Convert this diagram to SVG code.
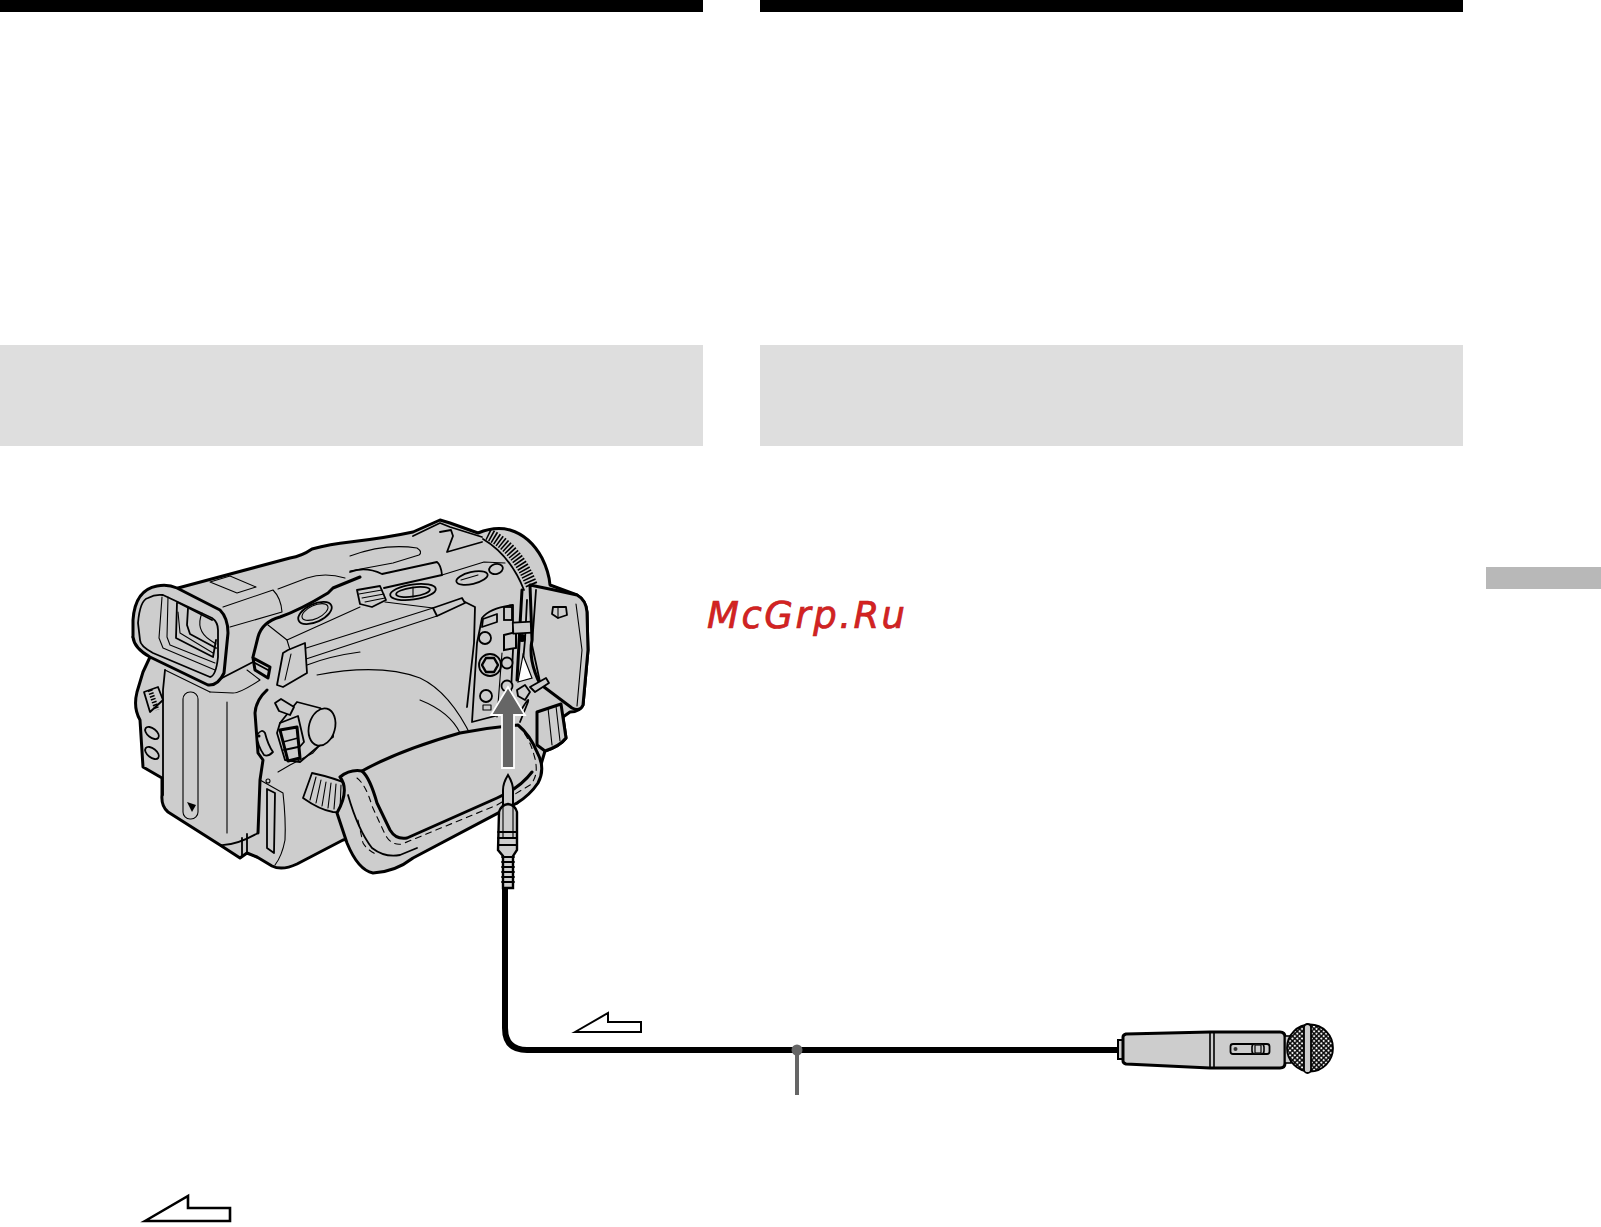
<svg xmlns="http://www.w3.org/2000/svg" width="1601" height="1227" viewBox="0 0 1601 1227">
<style>
.g{fill:#cdcdcd;stroke:#000;stroke-linejoin:round;stroke-linecap:round}
.t{fill:none;stroke:#000;stroke-width:1.1;stroke-linejoin:round;stroke-linecap:round}
.m{fill:none;stroke:#000;stroke-width:1.8;stroke-linejoin:round;stroke-linecap:round}
.k{fill:none;stroke:#000;stroke-width:3;stroke-linejoin:round;stroke-linecap:round}
.gt{fill:#cdcdcd;stroke:#000;stroke-width:1.1;stroke-linejoin:round}
.gm{fill:#cdcdcd;stroke:#000;stroke-width:1.8;stroke-linejoin:round}
.gk{fill:#cdcdcd;stroke:#000;stroke-width:3;stroke-linejoin:round}
.w{fill:#fff;stroke:#000;stroke-linejoin:miter}
.b{fill:#000}
</style>
<defs>
<pattern id="mesh" width="3.4" height="3.4" patternUnits="userSpaceOnUse" patternTransform="rotate(45 1308 1048)">
<rect width="3.4" height="3.4" fill="#000"/><rect x="0.7" y="0.7" width="2" height="2" fill="#f0f0f0"/>
</pattern>
</defs>
<rect width="1601" height="1227" fill="#fff"/>
<g id="page-furniture">
<rect x="0" y="0" width="703" height="12" fill="#000"/>
<rect x="760" y="0" width="703" height="12" fill="#000"/>
<rect x="0" y="345" width="703" height="101" fill="#dedede"/>
<rect x="760" y="345" width="703" height="101" fill="#dedede"/>
<rect x="1486" y="567" width="115" height="22" fill="#b8b8b8"/>
</g>
<g id="camcorder">
<!-- silhouette -->
<path class="gk" stroke-width="3.5" d="M178 588L290 558Q302 556 312 549Q330 544 350 542Q385 538 413 532L440 520L450 523L478 533Q495 526 510 530Q530 536 542 558Q549 572 550 585L577 595Q586 600 587 612L588 650L583 705Q580 712 570 712L563 717L566 738Q560 746 545 751L540 768Q530 790 517 803L343 840L297 864Q282 871 272 866L257 857L247 853L240 858L220 845L168 812Q161 806 162 795L162 778L143 767L140 720Q133 708 137 692L143 672L150 657L133 637Z"/>
<!-- lens ring -->
<path d="M488 534Q517 548 532 586" fill="none" stroke="#000" stroke-width="12" stroke-dasharray="1.6 1.6"/>
<path class="m" d="M483 539Q510 555 524 590"/>
<!-- top surface -->
<path class="t" d="M350 556Q385 543 417 548Q423 552 419 555L393 563L350 571"/>
<path class="m" d="M413 536L440 523L450 527L482 537"/>
<path class="m" d="M440 532L451 530L453 536L447 552L482 542"/>
<path class="m" d="M350 572Q365 566 382 574L437 562Q441 565 442 575L384 588"/>
<path class="gm" d="M357 590L380 586L386 600L372 607L360 604Z"/>
<path class="t" d="M359 594L382 590M362 598L384 594M365 602L385 598"/>
<path class="t" d="M442 575L484 562L505 563"/>
<ellipse class="gm" cx="413" cy="592" rx="23" ry="7.500" transform="rotate(-8 413 592)"/>
<ellipse class="gm" cx="413" cy="592" rx="17" ry="4.500" transform="rotate(-8 413 592)"/>
<path class="t" d="M413 587L413 597"/>
<ellipse class="gm" cx="472" cy="578" rx="16" ry="6" transform="rotate(-13 472 578)"/>
<path class="t" d="M461 580L478 575"/>
<ellipse class="gm" cx="496" cy="569" rx="7" ry="5" transform="rotate(-15 496 569)"/>
<!-- side panel -->
<path class="t" d="M385 602L433 608"/>
<path class="gm" d="M433 608L462 598L465 603L437 616Z"/>
<path class="t" d="M300 650L433 608M303 660L437 616"/>
<path class="m" d="M465 602L475 607L474 643L467 707"/>
<path class="t" d="M317 675Q380 663 420 678Q450 692 472 738"/>
<path class="t" d="M420 700Q450 712 460 733"/>
<!-- jack plate -->
<path class="gm" d="M482 618Q490 608 513 605L513 650L510 712L472 722L477 643Z"/>
<path class="gm" d="M483 619L497 614L497 622L482 627Z"/>
<path class="t" d="M502 653L497 717"/>
<circle class="gm" cx="485" cy="638" r="6"/>
<circle class="gm" cx="490" cy="665" r="11"/>
<path d="M486 658L494 658L498 665L494 672L486 672L482 665Z" fill="#cdcdcd" stroke="#000" stroke-width="2.400"/>
<circle class="gm" cx="507" cy="663" r="5.500"/>
<circle class="gm" cx="507" cy="686" r="5.500"/>
<circle class="gm" cx="486" cy="696" r="6"/>
<rect class="gt" x="483" y="705" width="8" height="5"/>
<rect x="504" y="607" width="8" height="13" fill="#cdcdcd" stroke="#000" stroke-width="1.800"/>
<path d="M504 635L516 632L516 648L504 650Z" fill="#cdcdcd" stroke="#000" stroke-width="2"/>
<!-- cables and hinge -->
<path class="k" d="M522 590L520 625L517 680"/>
<path class="m" d="M527 600L525 640L522 672"/>
<path d="M523 655L518 682L532 678Z" fill="#fff" stroke="#000" stroke-width="1.200"/>
<rect class="gm" x="513" y="622" width="24" height="11" transform="rotate(-3 525 627)"/>
<circle class="b" cx="522" cy="638" r="4"/>
<!-- LCD -->
<path class="gk" d="M530 585Q555 590 577 595Q586 600 587 612L588 650L583 705Q580 712 572 708L540 684Q528 660 532 640Z"/>
<path class="t" d="M576 604L582 650L577 706"/>
<path class="m" d="M536 590L532 645L540 682"/>
<path class="gm" d="M553 607L566 607L567 615L558 618L552 614Z"/>
<path class="t" d="M558 607L558 618"/>
<path class="gm" d="M530 687L546 678L549 683L535 692Z"/>
<path class="gm" d="M517 690L525 685L530 692L525 700L518 696Z"/>
<path class="gk" d="M537 712L561 704L566 738Q560 746 545 751L537 745Z"/>
<path class="t" d="M548 708L552 745M556 706L560 741"/>
<path class="m" d="M520 712Q530 695 528 702L520 722"/>
<!-- hood -->
<path class="k" d="M360 577L333 588L328 593Q300 610 280 617Q262 622 258 637L253 657"/>
<ellipse class="gm" cx="315" cy="613" rx="18" ry="9" transform="rotate(-25 315 613)"/>
<ellipse class="gt" cx="315" cy="612" rx="14" ry="6.500" transform="rotate(-25 315 612)"/>
<path class="t" d="M268 625L287 640L360 607"/>
<path class="t" d="M287 640L290 650"/>
<path class="gm" d="M288 650L305 643L307 673L283 687L277 685L283 653Z"/>
<path class="t" d="M291 654L285 680"/>
<path class="t" d="M307 665Q330 656 360 652"/>
<path class="gk" d="M253 658L270 667L268 678L255 670Z"/>
<path class="m" d="M253 662L268 670"/>
<!-- barrel -->
<path class="t" d="M223 607L273 590Q281 598 282 612L230 627M278 589L307 578Q325 572 345 578"/>
<path class="gt" d="M210 582L230 576L256 587L237 593Z"/>
<path class="m" d="M222 678L253 662"/>
<path class="t" d="M247 670L260 680Q240 693 233 693L210 692"/>
<!-- eyepiece -->
<path class="gk" stroke-width="4" d="M133 620Q135 590 157 586Q168 584 177 588L220 610Q228 618 228 633L224 673Q218 686 208 685L150 657Q134 648 133 637Z"/>
<path class="m" d="M138 623Q140 600 148 598Q155 594 163 595L212 618Q218 622 218 630L218 657Q216 676 210 677L153 653Q140 646 140 640Z"/>
<path class="t" d="M162 597L159 638L163 648L215 670M168 597L167 637L170 645L215 663"/>
<path class="m" d="M177 602L176 638L213 657L216 640M177 602L212 620"/>
<path class="t" d="M178 612L180 633L213 653"/>
<path class="m" d="M188 608L187 625L190 634L216 648"/>
<path class="t" d="M202 613Q195 630 210 640L216 644"/>
<!-- battery and front -->
<path class="m" d="M165 670L163 690L163 795"/>
<path class="t" d="M165 670L210 692"/>
<path class="m" d="M144 692L158 687L163 700L150 712Z"/>
<path d="M150 690L157 710" fill="none" stroke="#000" stroke-width="5" stroke-dasharray="1.500 1.500"/>
<ellipse class="m" cx="152" cy="733" rx="8" ry="4.500" transform="rotate(38 152 733)"/>
<ellipse class="m" cx="152" cy="753" rx="8" ry="4.500" transform="rotate(38 152 753)"/>
<path class="t" d="M227 702L227 833"/>
<rect class="gt" x="183" y="692" width="15" height="127" rx="7"/>
<path class="b" d="M187 802L196 805L192 812Z"/>
<path class="m" d="M220 845Q235 846 258 833"/>
<path class="k" d="M267 690Q256 700 255 713L258 753L263 760L260 780L258 833"/>
<path class="m" d="M242 838L242 856M247 834L247 853L258 858"/>
<path class="t" d="M260 780L283 793Q286 820 285 840Q282 856 275 865"/>
<path class="m" d="M267 789L275 793L274 853L267 848Z"/>
<circle class="t" cx="268" cy="781" r="2"/>
<!-- grip dial -->
<path class="gm" d="M280 723L297 702L320 708L334 720L333 737L320 745L300 762L285 760L277 733Z"/>
<path class="m" d="M280 723L298 716L304 742L288 760"/>
<ellipse class="gm" cx="322" cy="727" rx="13" ry="19" transform="rotate(15 322 727)"/>
<path class="gm" d="M275 703L281 699L294 707L290 715L279 711Z"/>
<path class="gk" d="M280 730L297 727L300 758L288 761Z" stroke-width="1.600"/>
<path class="m" d="M283 742L298 738M284 750L298 747"/>
<path class="t" d="M278 772L290 765L313 753L320 745"/>
<path class="gm" d="M257 735Q262 728 265 733Q268 745 273 752Q268 757 264 755Q257 745 257 735Z"/>
<circle class="b" cx="259" cy="736" r="1.500"/>
<!-- hand strap -->
<path class="gm" d="M312 773L303 798Q320 810 333 812L362 813L350 785Q335 778 312 773Z"/>
<path class="t" d="M316 777L310 800M321 780L316 803M326 782L322 806M331 783L328 808M336 784L334 809M341 785L340 810M346 786L347 811"/>
<path class="gk" d="M340 777Q350 769 362 771Q400 750 460 733Q490 727 518 725Q530 735 537 752Q546 768 538 783Q530 795 517 803L413 858Q395 872 373 873Q358 870 347 843L337 813Q350 790 340 777Z"/>
<path class="k" d="M362 771Q370 778 377 803L390 830Q396 840 407 838L497 798Q520 788 532 772"/>
<path class="t" stroke-dasharray="6 5" d="M357 778Q366 785 372 806L384 832Q390 846 402 844L497 805L530 785Q540 775 534 755Q530 740 522 730"/>
<path class="t" stroke-dasharray="6 5" d="M358 820L363 843Q368 851 378 855"/>
<path class="m" d="M348 795Q358 830 372 848Q385 858 400 855L417 848"/>
</g>
<g id="connectors">
<path d="M505 888V1028Q505 1050 527 1050H1122" fill="none" stroke="#000" stroke-width="6"/>
<rect x="795" y="1050" width="4" height="45" fill="#666"/>
<circle cx="797" cy="1050" r="5.500" fill="#666"/>
</g>
<g id="insert-arrow">
<path d="M508 687L525 715H514V768H502V715H491Z" fill="#666" stroke="#fff" stroke-width="1.800" stroke-linejoin="miter"/>
</g>
<g id="plug">
<path d="M508 775Q503 783 503 790L503 806H513L513 790Q513 783 508 775Z" fill="#cdcdcd" stroke="#000" stroke-width="2"/>
<path d="M499 812Q501 805 508 804Q515 805 517 812V850L513 856V888H503V856L498 850Z" fill="#cdcdcd" stroke="#000" stroke-width="2.400"/>
<path class="t" d="M503 806V838M513 806V838"/>
<path class="m" d="M498 832L517 832M498 838L517 838M498 845L517 845"/>
<path class="m" d="M502 857H514M502 862H514M502 867H514M502 872H514M502 877H514M502 882H514"/>
</g>
<g id="microphone">
<rect x="1118" y="1040" width="5" height="19" fill="#cdcdcd" stroke="#000" stroke-width="2"/>
<path class="gk" d="M1123 1037Q1123 1035 1126 1034L1210 1032H1280Q1285 1032 1285 1037V1063Q1285 1068 1280 1068H1210L1126 1064Q1123 1063 1123 1061Z"/>
<path d="M1210 1032V1068M1214 1032V1068" stroke="#000" stroke-width="1.600" fill="none"/>
<rect class="gm" x="1230.500" y="1044" width="39" height="10" rx="2.500"/>
<circle cx="1235.500" cy="1049" r="2" fill="#333"/>
<rect x="1252" y="1044" width="12" height="10" rx="3" fill="#cdcdcd" stroke="#000" stroke-width="1.600"/>
<rect x="1255" y="1045" width="6" height="8" fill="#cdcdcd" stroke="#000" stroke-width="1.200"/>
<rect x="1285" y="1036" width="6" height="27" fill="#cdcdcd" stroke="#000" stroke-width="1.600"/>
<ellipse cx="1310" cy="1048" rx="23" ry="23.500" fill="url(#mesh)" stroke="#000" stroke-width="1.800"/>
<rect x="1304" y="1024" width="7" height="49" rx="3.500" fill="#cdcdcd" stroke="#000" stroke-width="1.800"/>
</g>
<g id="direction-arrows">
<path class="w" stroke-width="2" d="M575 1032L608 1013V1022H641V1032Z"/>
<path class="w" stroke-width="2.600" d="M145 1221L188 1196V1208H230V1221Z"/>
</g>
<text x="707" y="628" font-family="'DejaVu Sans',sans-serif" font-style="oblique" font-size="37" letter-spacing="2.500" fill="#d52222" stroke="#c02020" stroke-width="0.700">McGrp.Ru</text>
</svg>
